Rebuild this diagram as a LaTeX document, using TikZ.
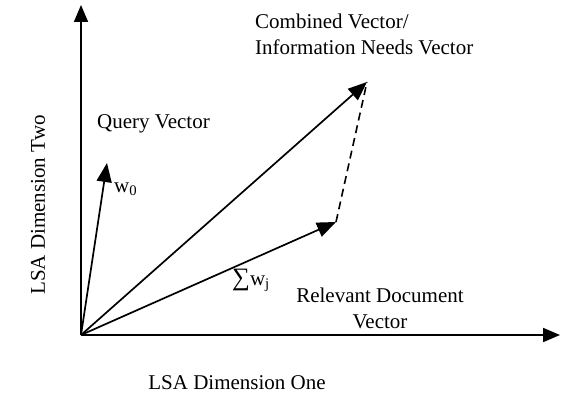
\documentclass[tikz,border=0pt]{standalone}
\usepackage{fontspec}
\setmainfont{Liberation Serif}
\usetikzlibrary{arrows.meta}
\begin{document}
\begin{tikzpicture}[x=1pt,y=-1pt,
  axis/.style={line width=1.8pt,-{Triangle[length=17pt,width=14pt]}},
  vec/.style={line width=1.7pt,-{Triangle[length=19pt,width=15pt]}},
  dashline/.style={line width=1.6pt,dash pattern=on 8pt off 5pt},
  lbl/.style={font=\fontsize{21}{26}\selectfont,inner sep=0pt}]
\useasboundingbox (0,0) rectangle (562,398);
\coordinate (O) at (81,335);
\coordinate (Ytip) at (81,5);
\coordinate (Xtip) at (560,335);
\coordinate (Q) at (107,163);
\coordinate (C) at (367,82);
\coordinate (R) at (336,222);
\draw[axis] (O) -- (Ytip);
\draw[axis] (O) -- (Xtip);
\draw[vec] (O) -- (Q);
\draw[vec] (O) -- (C);
\draw[vec] (O) -- (R);
\draw[dashline] (R) -- (C);
\node[lbl,anchor=west,align=left] (cl) at (255,34) {Combined Vector/\\Information Needs Vector};
\node[lbl,anchor=west] (ql) at (97,124) {Query Vector};
\node[lbl,anchor=west] (w0) at (114,189) {w\textsubscript{0}};
\node[lbl,anchor=west] (wj) at (232,280) {{\fontsize{25}{26}\selectfont∑}w\textsubscript{j}};
\node[lbl,align=center] (rl) at (380,308) {Relevant Document\\Vector};
\node[lbl] (xl) at (237,383) {LSA Dimension One};
\node[lbl,rotate=90] (yl) at (38,205) {LSA Dimension Two};
\end{tikzpicture}
\end{document}
